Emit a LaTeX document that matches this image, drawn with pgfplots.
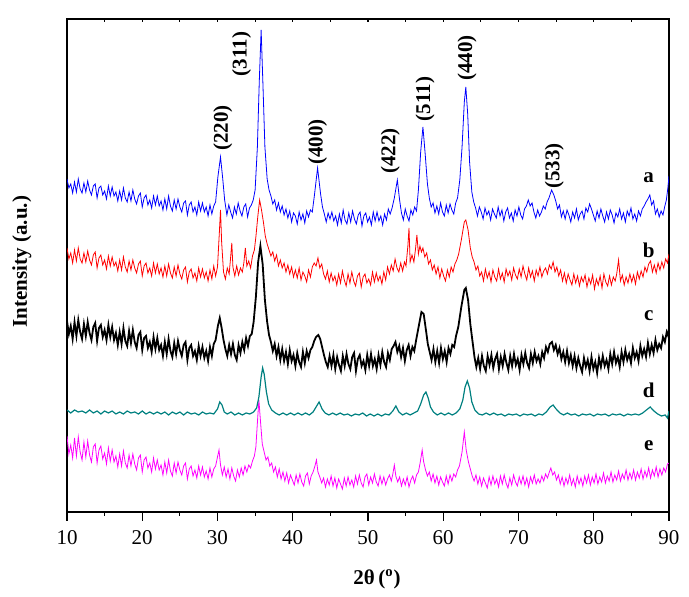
\documentclass[border=0pt]{standalone}
\usepackage{fontspec}
\setmainfont{Liberation Serif}
\usepackage{pgfplots}
\pgfplotsset{compat=1.18}
\definecolor{ca}{RGB}{0,0,255}
\definecolor{cb}{RGB}{255,0,0}
\definecolor{cd}{RGB}{0,128,128}
\definecolor{ce}{RGB}{255,0,255}
\pgfplotstableread{
x y
10.00 333
10.25 324
10.50 328
10.75 319
11.00 330
11.25 320
11.50 333
11.75 323
12.00 319
12.25 329
12.50 320
12.75 331
13.00 322
13.25 317
13.50 326
13.75 328
14.00 314
14.25 324
14.50 326
14.75 317
15.00 321
15.25 313
15.50 326
15.75 316
16.00 325
16.25 316
16.50 320
16.75 311
17.00 321
17.25 312
17.50 324
17.75 314
18.00 310
18.25 320
18.50 311
18.75 322
19.00 313
19.25 308
19.50 316
19.75 319
20.00 305
20.25 314
20.50 317
20.75 307
21.00 312
21.25 304
21.50 316
21.75 307
22.00 316
22.25 306
22.50 311
22.75 302
23.00 313
23.25 303
23.50 316
23.75 306
24.00 301
24.25 312
24.50 303
24.75 313
25.00 305
25.25 300
25.50 309
25.75 311
26.00 297
26.25 307
26.50 310
26.75 300
27.00 305
27.25 297
27.50 310
27.75 301
28.00 309
28.25 300
28.50 305
28.75 296
29.00 307
29.25 298
29.50 306
29.75 310
30.05 335
30.4 355
30.7 333
30.95 312
31.25 297
31.50 307
31.75 300
32.00 294
32.25 305
32.50 298
32.75 309
33.00 301
33.25 296
33.50 305
33.75 308
34.00 295
34.25 304
34.50 307
34.75 312
35.0 322
35.3 365
35.55 430
35.8 482
36.05 425
36.3 365
36.6 333
36.85 322
37.1 316
37.35 308
37.6 312
37.85 302
38.1 309
38.35 300
38.6 306
38.85 297
39.1 303
39.35 294
39.6 301
39.85 290
40.1 299
40.35 296
40.6 288
40.85 300
41.1 292
41.35 298
41.6 289
41.85 301
42.1 295
42.35 302
42.6 300
42.9 318
43.3 344
43.7 318
43.95 305
44.2 298
44.45 290
44.7 299
44.95 293
45.2 300
45.45 291
45.7 296
45.95 287
46.2 298
46.45 289
46.7 302
46.95 292
47.2 288
47.45 299
47.7 290
47.95 301
48.2 293
48.45 288
48.7 297
48.95 300
49.2 286
49.45 296
49.7 299
49.95 290
50.2 295
50.45 287
50.7 300
50.95 291
51.2 300
51.45 291
51.7 296
51.95 287
52.2 298
52.45 292
52.7 303
52.95 298
53.2 304
53.5 314
53.9 332
54.2 312
54.45 299
54.7 292
54.95 303
55.2 296
55.45 291
55.7 302
55.95 297
56.2 305
56.45 301
56.7 322
57.0 360
57.3 385
57.6 358
57.9 328
58.15 314
58.4 305
58.65 309
58.9 299
59.15 306
59.4 298
59.65 309
59.9 300
60.15 296
60.4 307
60.65 299
60.9 308
61.15 302
61.4 298
61.65 309
61.9 314
62.2 332
62.5 365
62.8 410
63.0 425
63.25 398
63.5 350
63.8 320
64.05 310
64.3 304
64.55 296
64.8 305
65.05 300
65.3 293
65.55 304
65.8 297
66.05 301
66.3 292
66.55 303
66.8 298
67.05 294
67.3 305
67.55 296
67.8 302
68.05 291
68.3 300
68.55 304
68.8 294
69.05 299
69.3 291
69.55 302
69.8 296
70.05 305
70.3 297
70.55 293
70.8 303
71.05 306
71.3 312
71.55 306
71.8 309
72.05 300
72.3 294
72.55 302
72.8 296
73.05 300
73.3 306
73.55 303
73.8 310
74.05 314
74.4 322
74.7 317
74.95 311
75.2 303
75.45 307
75.7 295
75.95 301
76.2 293
76.45 302
76.7 297
76.95 290
77.2 300
77.45 294
77.7 303
77.95 292
78.2 298
78.45 301
78.7 293
78.95 304
79.2 300
79.45 308
79.7 303
79.95 297
80.2 291
80.45 301
80.7 294
80.95 303
81.2 296
81.45 290
81.7 300
81.95 293
82.2 302
82.45 297
82.7 289
82.95 299
83.2 295
83.45 303
83.7 293
83.95 299
84.2 290
84.45 301
84.7 296
84.95 304
85.2 293
85.45 298
85.7 291
85.95 301
86.2 296
86.45 303
86.7 306
86.95 310
87.2 313
87.45 317
87.7 307
87.95 311
88.2 298
88.45 303
88.7 295
88.95 301
89.2 297
89.45 306
89.65 312
89.85 324
90.0 336
}\tabA
\pgfplotstableread{
x y
10.00 264
10.25 253
10.50 259
10.75 249
11.00 262
11.25 251
11.50 264
11.75 253
12.00 249
12.25 259
12.50 250
12.75 261
13.00 252
13.25 247
13.50 257
13.75 260
14.00 244
14.25 254
14.50 257
14.75 247
15.00 252
15.25 243
15.50 256
15.75 246
16.00 255
16.25 246
16.50 250
16.75 241
17.00 252
17.25 242
17.50 255
17.75 245
18.00 240
18.25 251
18.50 242
18.75 252
19.00 244
19.25 239
19.50 248
19.75 251
20.00 236
20.25 246
20.50 249
20.75 239
21.00 244
21.25 236
21.50 249
21.75 239
22.00 248
22.25 238
22.50 244
22.75 235
23.00 246
23.25 236
23.50 248
23.75 239
24.00 234
24.25 245
24.50 236
24.75 247
25.00 238
25.25 233
25.50 242
25.75 245
26.00 230
26.25 240
26.50 243
26.75 234
27.00 239
27.25 231
27.50 244
27.75 235
28.00 243
28.25 234
28.50 240
28.75 231
29.00 242
29.25 233
29.50 246
29.75 236
30.00 245
30.25 280
30.4 302
30.55 270
30.8 240
31.05 233
31.3 244
31.55 238
31.75 255
31.9 269
32.05 245
32.3 236
32.55 246
32.8 237
33.05 244
33.3 240
33.5 249
33.7 264
33.9 246
34.15 251
34.4 244
34.65 256
34.9 262
35.1 275
35.35 295
35.6 312
35.85 302
36.1 290
36.35 276
36.6 268
36.85 262
37.1 256
37.35 260
37.6 251
37.85 257
38.1 246
38.35 252
38.6 244
38.85 249
39.1 240
39.35 247
39.6 238
39.85 245
40.1 235
40.35 242
40.6 234
40.85 244
41.1 232
41.35 240
41.6 236
41.85 230
42.1 242
42.35 235
42.6 245
42.85 249
43.1 246
43.35 254
43.6 244
43.85 248
44.1 238
44.35 233
44.6 241
44.85 230
45.1 239
45.35 231
45.6 236
45.85 227
46.1 238
46.35 229
46.6 241
46.85 232
47.1 226
47.35 238
47.6 229
47.85 240
48.1 231
48.35 226
48.6 236
48.85 239
49.1 225
49.35 235
49.6 238
49.85 229
50.1 233
50.35 227
50.6 240
50.85 230
51.1 239
51.35 231
51.6 236
51.85 228
52.1 240
52.35 232
52.6 245
52.85 238
53.1 247
53.35 241
53.6 253
53.85 244
54.1 240
54.35 249
54.6 241
54.85 250
55.05 246
55.3 266
55.45 284
55.6 250
55.85 257
56.1 250
56.3 262
56.5 277
56.7 258
56.9 266
57.1 260
57.3 264
57.55 255
57.8 259
58.05 248
58.3 252
58.55 242
58.8 247
59.05 238
59.3 245
59.55 234
59.8 243
60.05 236
60.3 231
60.55 242
60.8 235
61.05 245
61.3 240
61.55 248
61.8 252
62.05 258
62.4 272
62.8 290
63.0 292
63.3 282
63.6 264
63.85 255
64.1 250
64.35 242
64.6 246
64.85 236
65.1 240
65.35 231
65.6 243
65.85 234
66.1 240
66.35 230
66.6 242
66.85 235
67.1 231
67.35 243
67.6 233
67.85 239
68.1 230
68.35 243
68.6 236
68.85 241
69.1 232
69.35 244
69.6 237
69.85 233
70.1 243
70.35 235
70.6 246
70.85 238
71.1 232
71.35 244
71.6 235
71.85 241
72.1 231
72.35 242
72.6 236
72.85 245
73.1 235
73.35 241
73.6 244
73.85 238
74.1 247
74.35 243
74.6 250
74.85 240
75.1 245
75.35 236
75.6 242
75.85 231
76.1 239
76.35 229
76.6 238
76.85 232
77.1 227
77.35 238
77.6 229
77.85 236
78.1 226
78.35 235
78.6 230
78.85 237
79.1 225
79.35 234
79.6 228
79.85 237
80.1 223
80.35 233
80.6 227
80.85 236
81.1 224
81.35 238
81.6 230
81.85 226
82.1 236
82.35 227
82.6 235
82.85 231
83.05 238
83.3 252
83.55 231
83.8 237
84.05 227
84.3 235
84.55 229
84.8 238
85.05 230
85.3 237
85.55 228
85.8 240
86.05 233
86.3 241
86.55 235
86.8 245
87.05 240
87.3 248
87.55 251
87.8 240
88.05 247
88.3 239
88.55 249
88.8 242
89.05 250
89.3 244
89.55 253
89.8 249
90.0 258
}\tabB
\pgfplotstableread{
x y
10.00 191
10.25 178
10.50 186
10.75 173
11.00 190
11.25 176
11.50 192
11.75 180
12.00 173
12.25 188
12.50 176
12.75 190
13.00 179
13.25 172
13.50 185
13.75 189
14.00 171
14.25 184
14.50 187
14.75 175
15.00 182
15.25 172
15.50 187
15.75 175
16.00 185
16.25 172
16.50 179
16.75 167
17.00 180
17.25 168
17.50 184
17.75 171
18.00 166
18.25 181
18.50 169
18.75 182
19.00 170
19.25 164
19.50 177
19.75 180
20.00 162
20.25 174
20.50 176
20.75 164
21.00 170
21.25 160
21.50 175
21.75 163
22.00 174
22.25 162
22.50 167
22.75 156
23.00 170
23.25 158
23.50 173
23.75 161
24.00 155
24.25 169
24.50 158
24.75 171
25.00 162
25.25 156
25.50 167
25.75 170
26.00 152
26.25 164
26.50 167
26.75 156
27.00 161
27.25 152
27.50 166
27.75 156
28.00 165
28.25 154
28.50 161
28.75 151
29.00 165
29.25 156
29.50 168
29.75 172
30.05 186
30.3 194
30.55 184
30.8 172
31.05 163
31.3 156
31.55 167
31.8 158
32.05 168
32.3 157
32.55 152
32.8 167
33.05 159
33.3 170
33.55 162
33.8 174
34.05 166
34.3 176
34.55 178
34.8 190
35.1 215
35.4 250
35.7 266
36.0 248
36.3 212
36.6 190
36.85 177
37.1 170
37.35 161
37.6 168
37.85 156
38.1 165
38.35 152
38.6 163
38.85 151
39.1 160
39.35 148
39.6 162
39.85 151
40.1 157
40.35 146
40.6 159
40.85 150
41.1 145
41.35 160
41.6 149
41.85 161
42.1 154
42.35 162
42.6 165
42.85 171
43.1 175
43.4 177
43.65 173
43.9 165
44.15 157
44.4 150
44.65 145
44.9 156
45.15 146
45.4 157
45.65 143
45.9 155
46.15 147
46.4 141
46.65 156
46.9 146
47.15 158
47.4 148
47.65 143
47.9 155
48.15 159
48.4 141
48.65 153
48.9 157
49.15 146
49.4 151
49.65 142
49.9 157
50.15 146
50.4 158
50.65 146
50.9 153
51.15 143
51.4 157
51.65 147
51.9 160
52.15 150
52.4 145
52.65 159
52.9 152
53.15 163
53.4 166
53.65 170
53.9 160
54.15 166
54.4 155
54.65 164
54.9 151
55.15 162
55.4 167
55.65 156
55.9 165
56.15 161
56.4 172
56.8 188
57.1 200
57.4 198
57.7 182
57.95 168
58.2 160
58.45 152
58.7 163
58.95 150
59.2 161
59.45 149
59.7 164
59.95 153
60.2 161
60.45 150
60.7 164
60.95 158
61.2 167
61.45 165
61.7 176
62.0 185
62.4 205
62.8 222
63.0 224
63.3 212
63.6 188
63.9 170
64.15 155
64.4 145
64.65 154
64.9 143
65.15 156
65.4 146
65.65 141
65.9 156
66.15 147
66.4 157
66.65 144
66.9 153
67.15 158
67.4 143
67.65 155
67.9 146
68.15 158
68.4 149
68.65 142
68.9 156
69.15 146
69.4 158
69.65 147
69.9 153
70.15 142
70.4 157
70.65 148
70.9 159
71.15 149
71.4 144
71.65 158
71.9 149
72.15 160
72.4 151
72.65 156
72.9 148
73.15 160
73.4 154
73.65 165
73.9 160
74.15 168
74.45 170
74.7 162
74.95 167
75.2 158
75.45 164
75.7 153
75.95 160
76.2 150
76.45 161
76.7 149
76.95 157
77.2 146
77.45 156
77.7 144
77.95 154
78.2 146
78.45 140
78.7 154
78.95 145
79.2 152
79.45 141
79.7 155
79.95 143
80.2 150
80.45 139
80.7 154
80.95 145
81.2 156
81.45 146
81.7 152
81.95 143
82.2 158
82.45 148
82.7 160
82.95 149
83.2 155
83.45 145
83.7 160
83.95 150
84.2 162
84.45 152
84.7 158
84.95 149
85.2 164
85.45 154
85.7 160
85.95 151
86.2 166
86.45 156
86.7 163
86.95 155
87.2 169
87.45 158
87.7 167
87.95 159
88.2 172
88.45 162
88.7 168
88.95 164
89.2 175
89.45 170
89.7 180
89.9 176
90.0 184
}\tabC
\pgfplotstableread{
x y
10.0 102
10.5 99
11.0 102
11.5 100
12.0 101
12.5 99
13.0 102
13.5 99
14.0 101
14.5 98
15.0 101
15.5 99
16.0 101
16.5 98
17.0 100
17.5 98
18.0 101
18.5 99
19.0 100
19.5 98
20.0 101
20.5 98
21.0 100
21.5 98
22.0 100
22.5 98
23.0 100
23.5 97
24.0 100
24.5 98
25.0 100
25.5 97
26.0 100
26.5 98
27.0 99
27.5 97
28.0 100
28.5 98
29.0 99
29.5 98
30.0 103
30.3 110
30.6 107
30.9 100
31.3 98
31.8 100
32.3 97
32.8 99
33.3 97
33.8 99
34.3 98
34.8 100
35.2 104
35.5 115
35.8 135
36.0 144
36.2 138
36.5 120
36.8 108
37.2 102
37.7 99
38.2 97
38.7 99
39.2 97
39.7 99
40.2 97
40.7 99
41.2 97
41.7 99
42.2 97
42.7 100
43.1 105
43.5 110
43.9 103
44.3 99
44.8 97
45.3 99
45.8 97
46.3 99
46.8 97
47.3 98
47.8 96
48.3 98
48.8 97
49.3 99
49.8 96
50.3 98
50.8 96
51.3 98
51.8 96
52.3 98
52.8 97
53.3 101
53.7 106
54.1 100
54.6 97
55.1 99
55.6 97
56.1 99
56.6 101
57.0 108
57.4 117
57.7 120
58.0 114
58.3 105
58.7 100
59.2 97
59.7 99
60.2 97
60.7 99
61.2 97
61.7 99
62.2 103
62.6 112
62.9 125
63.2 131
63.5 124
63.8 110
64.2 102
64.7 98
65.2 97
65.7 99
66.2 97
66.7 99
67.2 97
67.7 98
68.2 96
68.7 98
69.2 97
69.7 98
70.2 96
70.7 98
71.2 97
71.7 98
72.2 96
72.7 98
73.2 97
73.7 100
74.2 105
74.6 107
75.0 103
75.5 99
76.0 97
76.5 99
77.0 97
77.5 98
78.0 96
78.5 98
79.0 97
79.5 98
80.0 96
80.5 98
81.0 97
81.5 98
82.0 96
82.5 98
83.0 97
83.5 98
84.0 96
84.5 98
85.0 97
85.5 98
86.0 97
86.5 99
87.0 102
87.5 105
88.0 101
88.5 98
89.0 96
89.5 97
89.8 94
90.0 101
}\tabD
\pgfplotstableread{
x y
10.00 76
10.25 58
10.50 67
10.75 54
11.00 74
11.25 56
11.50 75
11.75 60
12.00 52
12.25 70
12.50 55
12.75 71
13.00 57
13.25 50
13.50 65
13.75 68
14.00 49
14.25 62
14.50 66
14.75 53
15.00 59
15.25 48
15.50 64
15.75 51
16.00 62
16.25 50
16.50 56
16.75 45
17.00 58
17.25 46
17.50 61
17.75 49
18.00 44
18.25 57
18.50 46
18.75 58
19.00 48
19.25 42
19.50 54
19.75 57
20.00 40
20.25 52
20.50 55
20.75 44
21.00 49
21.25 40
21.50 54
21.75 43
22.00 52
22.25 42
22.50 47
22.75 37
23.00 50
23.25 39
23.50 52
23.75 41
24.00 36
24.25 49
24.50 39
24.75 50
25.00 42
25.25 37
25.50 46
25.75 49
26.00 33
26.25 43
26.50 46
26.75 36
27.00 42
27.25 34
27.50 46
27.75 37
28.00 45
28.25 35
28.50 41
28.75 33
29.00 44
29.25 35
29.50 43
29.75 46
30.0 55
30.2 62
30.4 47
30.65 37
30.9 45
31.15 35
31.4 43
31.65 33
31.9 44
32.15 36
32.4 31
32.65 42
32.9 35
33.15 44
33.4 37
33.65 46
33.9 40
34.15 47
34.4 44
34.65 51
34.9 56
35.1 65
35.35 95
35.5 112
35.7 92
35.95 68
36.2 60
36.45 52
36.7 55
36.95 46
37.2 49
37.45 40
37.7 45
37.95 35
38.2 43
38.45 33
38.7 40
38.95 31
39.2 39
39.45 29
39.7 37
39.95 32
40.2 27
40.45 37
40.7 29
40.95 38
41.2 30
41.45 26
41.7 36
41.95 39
42.2 28
42.45 36
42.7 40
42.95 46
43.15 52
43.35 40
43.6 35
43.85 29
44.1 34
44.35 25
44.6 33
44.85 27
45.1 36
45.35 26
45.6 34
45.85 24
46.1 33
46.35 28
46.6 23
46.85 34
47.1 26
47.35 35
47.6 27
47.85 32
48.1 25
48.35 36
48.6 28
48.85 37
49.1 29
49.35 25
49.6 35
49.85 38
50.1 27
50.35 35
50.6 29
50.85 38
51.1 30
51.35 26
51.6 36
51.85 28
52.1 35
52.35 27
52.6 33
52.85 37
53.1 31
53.3 38
53.5 47
53.7 36
53.95 30
54.2 35
54.45 26
54.7 33
54.95 27
55.2 35
55.45 25
55.7 32
55.95 36
56.2 29
56.45 37
56.7 40
56.95 50
57.2 62
57.4 50
57.65 42
57.9 36
58.15 40
58.4 31
58.65 38
58.9 29
59.15 36
59.4 27
59.65 35
59.9 30
60.15 26
60.4 36
60.65 28
60.9 37
61.15 31
61.4 38
61.65 35
61.9 42
62.15 46
62.5 60
62.8 80
63.05 62
63.35 50
63.6 43
63.85 36
64.1 31
64.35 37
64.6 28
64.85 35
65.1 26
65.35 34
65.6 29
65.85 24
66.1 35
66.35 27
66.6 36
66.85 28
67.1 33
67.35 25
67.6 36
67.85 28
68.1 37
68.35 29
68.6 24
68.85 34
69.1 27
69.35 37
69.6 30
69.85 26
70.1 35
70.35 28
70.6 36
70.85 27
71.1 34
71.35 25
71.6 35
71.85 29
72.1 37
72.35 28
72.6 33
72.85 29
73.1 36
73.35 31
73.6 38
73.85 34
74.1 40
74.3 44
74.55 37
74.8 40
75.05 32
75.3 37
75.55 28
75.8 35
76.05 26
76.3 34
76.55 28
76.8 37
77.05 27
77.3 33
77.55 25
77.8 36
78.05 28
78.3 34
78.55 26
78.8 36
79.05 29
79.3 37
79.55 27
79.8 35
80.05 29
80.3 38
80.55 28
80.8 35
81.05 30
81.3 39
81.55 29
81.8 36
82.05 31
82.3 40
82.55 30
82.8 37
83.05 32
83.3 41
83.55 31
83.8 38
84.05 33
84.3 42
84.55 32
84.8 39
85.05 33
85.3 42
85.55 32
85.8 40
86.05 34
86.3 43
86.55 33
86.8 41
87.05 35
87.3 44
87.55 34
87.8 42
88.05 36
88.3 45
88.55 35
88.8 43
89.05 37
89.3 44
89.55 40
89.8 48
90.0 49
}\tabE
\begin{document}
\fontsize{10.5}{12.6}\selectfont
\begin{tikzpicture}
\useasboundingbox (-33.5pt,-42.5pt) rectangle (311pt,256pt);
\begin{axis}[
  scale only axis, width=301pt, height=246.5pt,
  xmin=10, xmax=90, ymin=0, ymax=493,
  xtick={10,20,...,90}, minor xtick={15,25,...,85},
  xtick pos=bottom, ytick pos=left,
  xtick align=outside, ytick align=inside,
  major tick length=4.5pt, minor tick length=2pt,
  ytick=\empty, minor ytick={0,27,...,486},
  /pgf/number format/assume math mode=true,
  tick label style={font=\fontsize{10.5}{12.6}\selectfont},
  xticklabel style={yshift=-1pt},
  axis line style={line width=0.7pt},
  every tick/.style={black, line width=0.6pt},
  xlabel={\bfseries 2θ\,(\textsuperscript{o})},
  ylabel={\bfseries Intensity (a.u.)},
  xlabel style={at={(axis description cs:0.515,-0.136)}, anchor=center, font=\fontsize{10.5}{12.6}\selectfont},
  ylabel style={at={(axis description cs:-0.0748,0.508)}, anchor=center, font=\fontsize{10.5}{12.6}\selectfont},
  clip=true,
]
\addplot[ce, line width=0.4pt] table {\tabE};
\addplot[cd, line width=0.6pt] table {\tabD};
\addplot[black, line width=0.9pt] table {\tabC};
\addplot[cb, line width=0.4pt] table {\tabB};
\addplot[ca, line width=0.4pt] table {\tabA};
\begin{scope}[every node/.style={font=\bfseries\fontsize{10.5}{12.6}\selectfont, inner sep=0pt}]
\node at (axis cs:87.3,334) {a};
\node at (axis cs:87.3,262) {b};
\node at (axis cs:87.3,196) {c};
\node at (axis cs:87.3,122) {d};
\node at (axis cs:87.3,66) {e};
\node[rotate=90] at (axis cs:30.7,384) {(220)};
\node[rotate=90] at (axis cs:33.2,458) {(311)};
\node[rotate=90] at (axis cs:43.3,370) {(400)};
\node[rotate=90] at (axis cs:52.97,361) {(422)};
\node[rotate=90] at (axis cs:57.6,413) {(511)};
\node[rotate=90] at (axis cs:63.16,454) {(440)};
\node[rotate=90] at (axis cs:74.76,346) {(533)};
\end{scope}
\end{axis}
\begin{axis}[
  scale only axis, width=301pt, height=246.5pt,
  xmin=10, xmax=90, ymin=0, ymax=493,
  axis x line*=top, axis y line=none,
  xtick={10,20,...,90}, minor xtick={15,25,...,85},
  xticklabels={}, xtick align=inside,
  major tick length=1.5pt, minor tick length=1.5pt,
  axis line style={line width=0.7pt},
  every tick/.style={black, line width=0.6pt},
]
\end{axis}
\end{tikzpicture}
\end{document}
